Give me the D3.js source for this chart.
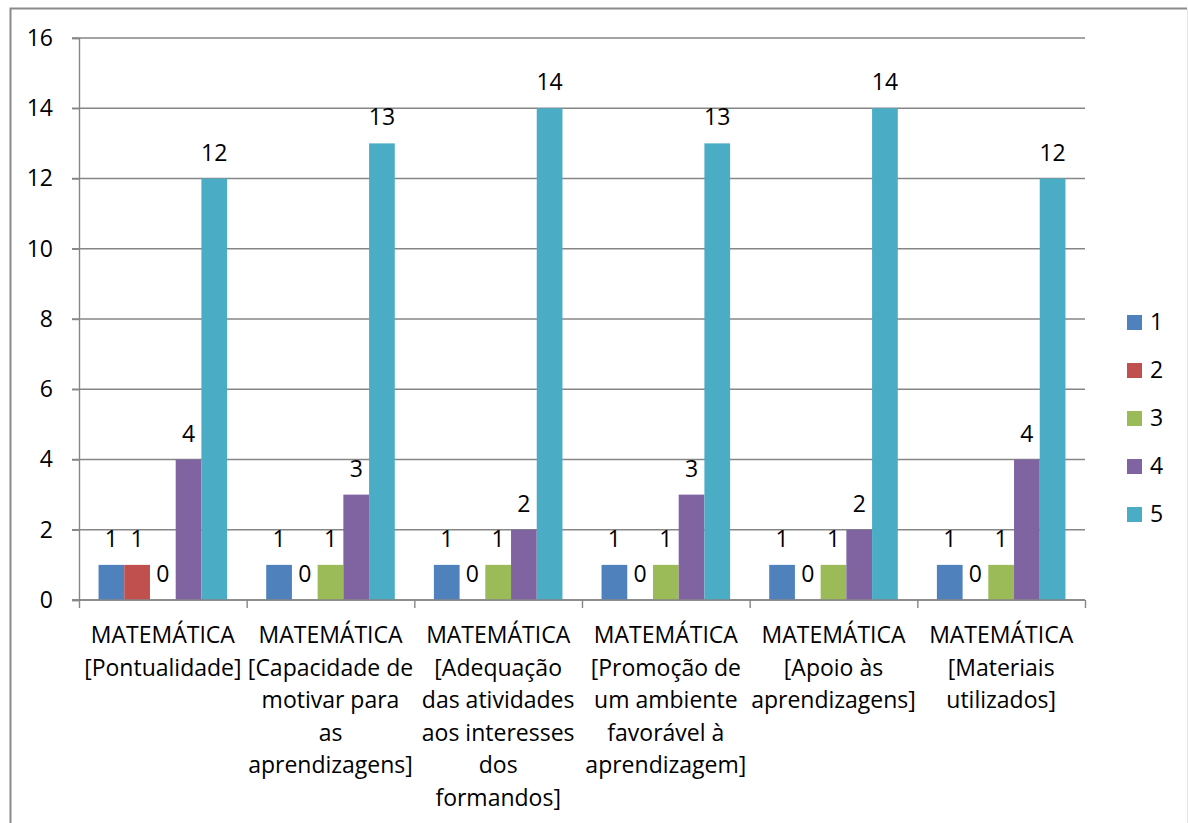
<!DOCTYPE html>
<html>
<head>
<meta charset="utf-8">
<script src="https://cdn.jsdelivr.net/npm/d3@7"></script>
<style>
  html, body { margin: 0; padding: 0; background: #fff; }
  svg { display: block; }
  text { font-family: "Open Sans", Lato, sans-serif; fill: #000; }
</style>
</head>
<body>
<svg id="chart" width="1188" height="823"></svg>
<script>
// ---- data ----
const categories = [
  "MATEMÁTICA [Pontualidade]",
  "MATEMÁTICA [Capacidade de motivar para as aprendizagens]",
  "MATEMÁTICA [Adequação das atividades aos interesses dos formandos]",
  "MATEMÁTICA [Promoção de um ambiente favorável à aprendizagem]",
  "MATEMÁTICA [Apoio às aprendizagens]",
  "MATEMÁTICA [Materiais utilizados]"
];
const categoryLines = [
  ["MATEMÁTICA", "[Pontualidade]"],
  ["MATEMÁTICA", "[Capacidade de", "motivar para", "as", "aprendizagens]"],
  ["MATEMÁTICA", "[Adequação", "das atividades", "aos interesses", "dos", "formandos]"],
  ["MATEMÁTICA", "[Promoção de", "um ambiente", "favorável à", "aprendizagem]"],
  ["MATEMÁTICA", "[Apoio às", "aprendizagens]"],
  ["MATEMÁTICA", "[Materiais", "utilizados]"]
];
const seriesNames = ["1", "2", "3", "4", "5"];
const series1 = [1, 1, 1, 1, 1, 1];
const series2 = [1, 0, 0, 0, 0, 0];
const series3 = [0, 1, 1, 1, 1, 1];
const series4 = [4, 3, 2, 3, 2, 4];
const series5 = [12, 13, 14, 13, 14, 12];
const yTicks = [0, 2, 4, 6, 8, 10, 12, 14, 16];
const colors = ["#4F81BD", "#C0504D", "#9BBB59", "#8064A2", "#4BACC6"];

const seriesValues = [series1, series2, series3, series4, series5];

// ---- layout ----
const svg = d3.select("#chart");
const plotLeft = 79, plotRight = 1085, plotTop = 38, plotBottom = 600;
const gridColor = "#868686";
const fontSize = 23;
const fontFam = "'Open Sans', Lato, sans-serif";

// outer border
svg.append("path")
  .attr("d", "M10.5,830 L10.5,8.5 L1187,8.5")
  .attr("fill", "none").attr("stroke", "#8a8a8a").attr("stroke-width", 2);
svg.append("line").attr("x1", 1187.5).attr("x2", 1187.5).attr("y1", 9).attr("y2", 830)
  .attr("stroke", "#e4e4e4").attr("stroke-width", 1);

const x = d3.scaleBand().domain(d3.range(categories.length)).range([plotLeft, plotRight]).padding(0);
const xs = d3.scaleBand().domain(d3.range(seriesNames.length)).range([0, x.bandwidth()])
  .paddingInner(0).paddingOuter(0.76);
const y = d3.scaleLinear().domain([0, 16]).range([plotBottom, plotTop]);

// gridlines
svg.append("g").selectAll("line").data(yTicks).join("line")
  .attr("x1", plotLeft - 7).attr("x2", plotRight)
  .attr("y1", d => y(d)).attr("y2", d => y(d))
  .attr("stroke", gridColor).attr("stroke-width", 1.4);

// y axis
const yAxis = svg.append("g").attr("transform", `translate(${plotLeft},0)`)
  .call(d3.axisLeft(y).tickValues(yTicks).tickSize(7).tickPadding(19).tickFormat(d3.format("d")));
yAxis.select(".domain").attr("stroke", gridColor).attr("stroke-width", 1.4);
yAxis.selectAll(".tick line").attr("stroke", gridColor).attr("stroke-width", 1.4);
yAxis.selectAll(".tick text").attr("font-size", fontSize).attr("font-family", fontFam).attr("fill", "#000");

// bars
const groups = svg.append("g").selectAll("g").data(categories).join("g")
  .attr("transform", (d, i) => `translate(${x(i)},0)`);
groups.each(function(c, ci) {
  const g = d3.select(this);
  seriesValues.forEach((vals, si) => {
    const v = vals[ci];
    if (v > 0) {
      g.append("rect")
        .attr("x", xs(si)).attr("width", xs.bandwidth())
        .attr("y", y(v)).attr("height", y(0) - y(v))
        .attr("fill", colors[si]);
    }
    g.append("text")
      .attr("x", xs(si) + xs.bandwidth() / 2)
      .attr("y", y(v) - 18)
      .attr("text-anchor", "middle")
      .attr("font-size", fontSize)
      .text(v);
  });
});

// x baseline and category ticks
svg.append("line").attr("x1", plotLeft - 7).attr("x2", plotRight).attr("y1", plotBottom).attr("y2", plotBottom)
  .attr("stroke", gridColor).attr("stroke-width", 1.4);
const xAxis = svg.append("g").attr("transform", `translate(0,${plotBottom})`)
  .call(d3.axisBottom(d3.scaleLinear().domain([0, categories.length]).range([plotLeft, plotRight]))
    .tickValues(d3.range(categories.length + 1)).tickSize(8).tickFormat(""));
xAxis.select(".domain").remove();
xAxis.selectAll(".tick line").attr("stroke", gridColor).attr("stroke-width", 1.4);

// category labels
const lineH = 32.6;
svg.append("g").selectAll("text").data(categoryLines).join("text")
  .attr("text-anchor", "middle")
  .attr("font-size", fontSize)
  .each(function(lines, i) {
    const t = d3.select(this);
    lines.forEach((ln, li) => {
      t.append("tspan")
        .attr("x", x(i) + x.bandwidth() / 2)
        .attr("y", 643 + li * lineH)
        .text(ln);
    });
  });

// legend
const legend = svg.append("g").selectAll("g").data(seriesNames).join("g")
  .attr("transform", (d, i) => `translate(1127,${315 + i * 48})`);
legend.append("rect").attr("width", 15).attr("height", 15).attr("fill", (d, i) => colors[i]);
legend.append("text").attr("x", 23).attr("y", 15).attr("font-size", fontSize).text(d => d);
</script>
</body>
</html>
